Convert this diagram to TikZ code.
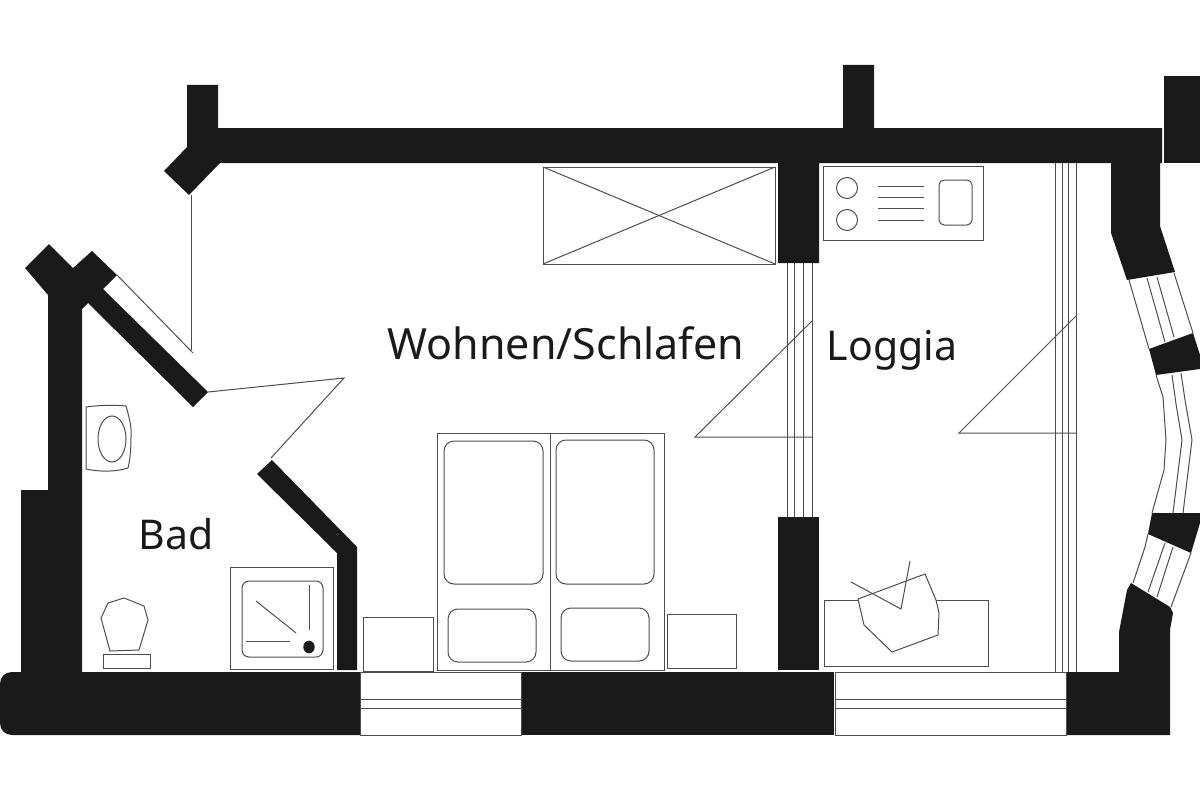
\documentclass[tikz,border=0pt]{standalone}
\usepackage{fontspec}
\setmainfont{Noto Sans}
\definecolor{wallcol}{HTML}{1A1A1A}
\definecolor{linecol}{HTML}{4D4D4D}
\tikzset{>=stealth,
  wall/.style={fill=wallcol, draw=none},
  plan/.style={draw=linecol, line width=1pt, line join=miter},
  furn/.style={plan, fill=white},
  roomlabel/.style={anchor=base, text=wallcol, inner sep=0pt, font=\fontsize{#1}{#1}\selectfont}}

\begin{document}
\begin{tikzpicture}[x=1pt, y=-1pt]
        \useasboundingbox (0,0) rectangle (1200,800);

        % walls
        \fill[wall] (187,85)--(218,85)--(218,128)--(843,128)--(843,65)--(874,65)--(874,128)--(1162,128)--(1162,163)--(1160,163)--(1160,226)--(1175,272)--(1127,280)--(1111,233)--(1111,163)--(819,163)--(819,263)--(778,263)--(778,163)--(220,163)--(189,195)--(164,171)--(187,147)--cycle;
        \fill[wall] (1164,76)--(1200,76)--(1200,163)--(1164,163)--cycle;
        \fill[wall] (12,672)--(21,672)--(21,490)--(48,490)--(48,295)--(25,268)--(49,244)--(73,268)--(92,251)--(117,275)--(103,289)--(208,392)--(193,407)--(88,303)--(82,309)--(82,672)--(360,672)--(360,735)--(12,735) .. controls (5,735) and (0,730) .. (0,723)--(0,684) .. controls (0,677) and (5,672) .. (12,672)--cycle;
        \fill[wall] (272,460)--(357,547)--(357,670)--(337,670)--(337,553)--(257,474)--cycle;
        \fill[wall] (521,672)--(834,672)--(834,735)--(521,735)--cycle;
        \fill[wall] (778,517)--(819,517)--(819,670)--(778,670)--cycle;
        \fill[wall] (1066,672)--(1119,672)--(1119,632)--(1127,590)--(1131,583)--(1170,607)--(1173,613)--(1170,630)--(1170,735)--(1066,735)--cycle;
        \fill[wall] (1149,349)--(1193,333)--(1200,355)--(1200,369)--(1156,375)--cycle;
        \fill[wall] (1152,513)--(1200,513)--(1200,523)--(1191,553)--(1148,534)--cycle;

        % windows
        \draw[plan] (117,275)--(193,353);
        \draw[plan] (360,672) rectangle (521,735);
        \draw[plan] (360,699)--(521,699);
        \draw[plan] (360,708)--(521,708);
        \draw[plan] (835,672) rectangle (1066,735);
        \draw[plan] (835,699)--(1066,699);
        \draw[plan] (835,708)--(1066,708);
        \foreach \xa in {787,794,803,812}
          \draw[plan] (\xa,263)--(\xa,517);
        \foreach \xa in {1055,1062,1068,1076}
          \draw[plan] (\xa,163)--(\xa,672);
        \draw[plan] (1129,280)--(1149,349);
        \draw[plan] (1147,278)--(1165,342);
        \draw[plan] (1157,277)--(1174,337);
        \draw[plan] (1174,273)--(1193,333);
        \draw[plan] (1156,375)--(1163,397)--(1166,440)--(1164,470)--(1152,513);
        \draw[plan] (1172,375)--(1176,404)--(1182,440)--(1173,513);
        \draw[plan] (1181,373)--(1185,400)--(1192,440)--(1183,513);
        \draw[plan] (1148,534)--(1145,547)--(1133,583);
        \draw[plan] (1165,543)--(1148,592);
        \draw[plan] (1173,547)--(1157,597);
        \draw[plan] (1191,553)--(1171,607);

        % doors
        \draw[plan] (191,195)--(191,350);
        \draw[plan] (208,392)--(344,378)--(271,458);
        \draw[plan] (812,321)--(695,437)--(812,437);
        \draw[plan] (1076,316)--(959,433)--(1076,433);

        % bad
        \draw[plan] (86,407) .. controls (100,405) and (115,405) .. (126,406) .. controls (130,420) and (132,430) .. (131,437) .. controls (131,450) and (130,460) .. (128,468) .. controls (115,472) and (100,472) .. (86,469)--cycle;
        \draw[plan] (112,439) ellipse (14 and 23);
        \draw[plan] (110,651)--(139,650)--(148,620)--(144,606)--(124,598)--(108,603)--(101,618)--cycle;
        \draw[plan] (103,654) rectangle (150,668);
        \draw[plan] (230,567) rectangle (333,669);
        \draw[plan, rounded corners=7pt] (242,581) rectangle (323,657);
        \draw[plan] (309,585)--(309,630);
        \draw[plan] (256,601)--(296,633);
        \draw[plan] (246,641)--(290,641);
        \fill[wall] (309,647) ellipse (5.7 and 6.3);

        % schrank
        \draw[plan] (437,433) rectangle (664,670);
        \draw[plan] (550,433)--(550,670);
        \draw[plan, rounded corners=10pt] (444,441) rectangle (543,584);
        \draw[plan, rounded corners=10pt] (556,440) rectangle (654,584);
        \draw[plan, rounded corners=10pt] (448,609) rectangle (536,662);
        \draw[plan, rounded corners=10pt] (561,608) rectangle (649,661);
        \draw[plan] (363,617) rectangle (433,671);
        \draw[plan] (667,614) rectangle (736,668);

        % kueche
        \draw[plan] (543,167) rectangle (775,264);
        \draw[plan] (543,167)--(775,264);
        \draw[plan] (543,264)--(775,167);
        \draw[plan] (823,166) rectangle (983,240);
        \draw[plan] (847,188) circle (10.5);
        \draw[plan] (847,220) circle (10.5);
        \foreach \ya in {186,197,208,220}
          \draw[plan] (878,\ya)--(924,\ya);
        \draw[plan, rounded corners=5pt] (939,180) rectangle (972,225);

        % loggia
        \draw[plan] (824,600) rectangle (988,666);
        \draw[furn] (858,599)--(925,574)--(936,600)--(939,613)--(938,635)--(892,652)--(864,625)--cycle;
        \draw[plan] (851,582)--(901,609)--(910,561);

        \node[roomlabel=43] (wohnen) at (566,359) {Wohnen/Schlafen};
        \node[roomlabel=41] (loggia) at (892,360) {Loggia};
        \node[roomlabel=41] (bad) at (176,549) {Bad};
\end{tikzpicture}
\end{document}
